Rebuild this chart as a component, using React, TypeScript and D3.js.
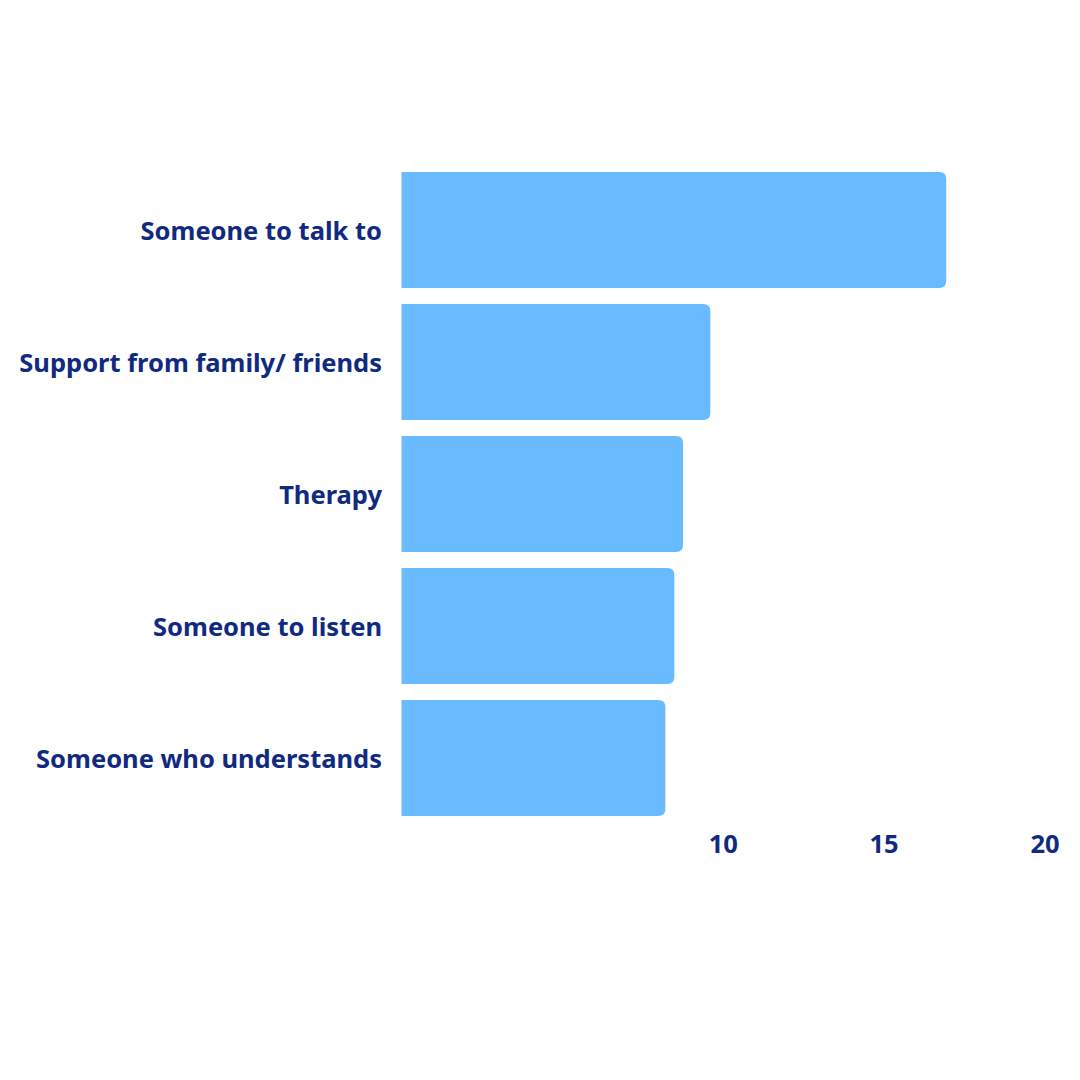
import React from "react";
import * as d3 from "d3";

const categories = [
  "Someone to talk to",
  "Support from family/ friends",
  "Therapy",
  "Someone to listen",
  "Someone who understands",
];
const values = [16.93, 9.6, 8.75, 8.48, 8.2];
const tickValues = [10, 15, 20];

const W = 1080;
const H = 1080;
const x0 = 401.5;
const x1 = 1045;
const yTop = 172;
const yBottom = 816;

export default function App() {
  const x = d3.scaleLinear().domain([0, 20]).range([x0, x1]);
  const y = d3
    .scaleBand<string>()
    .domain(categories)
    .range([yTop - 8, yBottom + 8])
    .paddingInner(0.121)
    .paddingOuter(0.06);
  const r = 7;
  const barPath = (v: number, cat: string) => {
    const top = y(cat)!;
    const h = y.bandwidth();
    const left = x(0);
    const right = x(v);
    return `M${left},${top} H${right - r} Q${right},${top} ${right},${top + r} V${top + h - r} Q${right},${top + h} ${right - r},${top + h} H${left} Z`;
  };
  const textColor = "#0f2a80";
  return (
    <svg
      width={W}
      height={H}
      style={{ position: "absolute", left: 0, top: 0, background: "#fff" }}
      fontFamily="'Noto Sans', 'Open Sans', sans-serif"
    >
      <rect width={W} height={H} fill="#fff" />
      {categories.map((c, i) => (
        <g key={c}>
          <path d={barPath(values[i], c)} fill="#69bbff" />
          <text
            x={382}
            y={y(c)! + y.bandwidth() / 2 + 1}
            dy="0.35em"
            textAnchor="end"
            fontSize={25.5}
            fontWeight={700}
            fill={textColor}
          >
            {c}
          </text>
        </g>
      ))}
      {tickValues.map((t) => (
        <text
          key={t}
          x={x(t)}
          y={853}
          textAnchor="middle"
          fontSize={25.5}
          fontWeight={700}
          fill={textColor}
        >
          {t}
        </text>
      ))}
    </svg>
  );
}
